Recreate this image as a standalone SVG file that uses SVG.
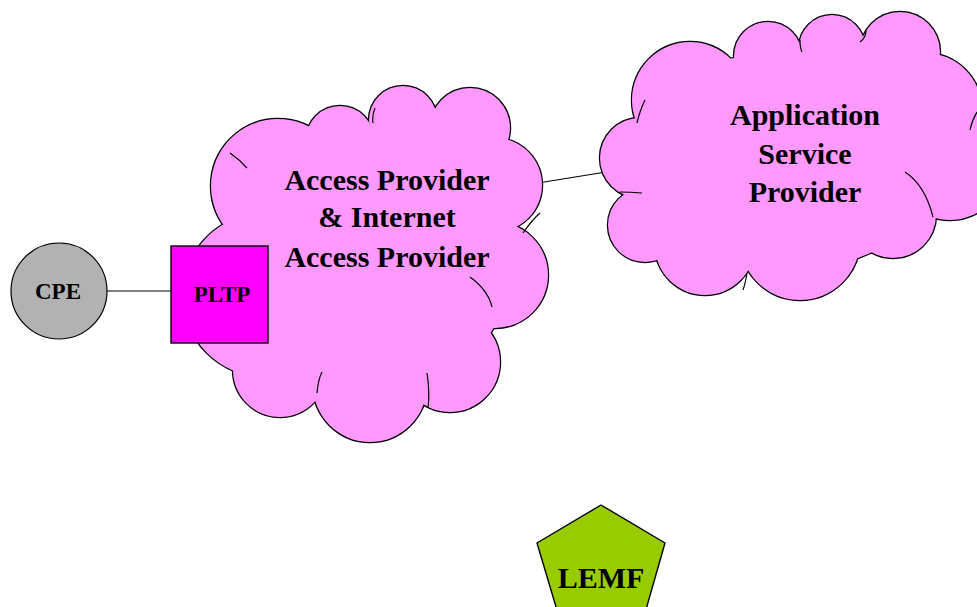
<svg xmlns="http://www.w3.org/2000/svg" width="977" height="607" viewBox="0 0 977 607">
<style>
.lbl{font-family:"Liberation Serif","Times New Roman",serif;font-weight:bold;fill:#000;text-anchor:middle}
.cs{fill:none;stroke:#000;stroke-width:2.4}
.cf{fill:#FF99FF;stroke:none}
.inner{fill:none;stroke:#000;stroke-width:1.2}
.edge{stroke:#000;stroke-width:1.2;fill:none}
</style>
<defs>
<g id="accShapes">
<circle cx="265" cy="295" r="82"/>
<circle cx="280" cy="370" r="47"/>
<circle cx="370" cy="385" r="57"/>
<circle cx="450" cy="362" r="50"/>
<circle cx="495" cy="275" r="53"/>
<circle cx="495" cy="185" r="47"/>
<circle cx="470" cy="128" r="40"/>
<circle cx="403" cy="120" r="34"/>
<circle cx="340" cy="140" r="34"/>
<circle cx="278" cy="186" r="67"/>
<circle cx="430" cy="165" r="40"/>
<ellipse cx="380" cy="265" rx="130" ry="130"/>
</g>
<g id="appShapes">
<circle cx="640" cy="158" r="40"/>
<circle cx="645" cy="225" r="37"/>
<circle cx="705" cy="245" r="50"/>
<circle cx="800" cy="240" r="60"/>
<circle cx="893" cy="215" r="43"/>
<circle cx="950" cy="165" r="55"/>
<circle cx="925" cy="110" r="57"/>
<circle cx="900" cy="52" r="40"/>
<circle cx="832" cy="48" r="33"/>
<circle cx="768" cy="56" r="34"/>
<circle cx="690" cy="100" r="58"/>
<circle cx="860" cy="90" r="42"/>
<ellipse cx="790" cy="160" rx="150" ry="110"/>
</g>
</defs>
<rect width="977" height="607" fill="#fff"/>
<g id="connectors">
<line class="edge" x1="107" y1="291" x2="172" y2="291"/>
<line class="edge" x1="538" y1="183" x2="606" y2="172"/>
</g>
<g id="access-provider">
<use href="#accShapes" class="cs"/>
<use href="#accShapes" class="cf"/>
<path class="inner" d="M470,277 Q488,290 492,307 M523,233 Q532,220 540,213 M427,373 Q430,392 428,408 M317,393 Q318,380 322,372 M230,153 Q240,160 247,168 M373,123 Q372,115 375,108"/>
<text class="lbl" x="387" y="190" font-size="30">Access Provider</text>
<text class="lbl" x="387" y="227" font-size="30">&amp; Internet</text>
<text class="lbl" x="387" y="267" font-size="30">Access Provider</text>
</g>
<g id="app-provider">
<use href="#appShapes" class="cs"/>
<use href="#appShapes" class="cf"/>
<path class="inner" d="M905,172 Q925,185 933,217 M637,123 Q640,110 645,100 M642,193 Q630,192 620,192 M747,273 Q745,285 743,290 M800,40 Q800,48 802,52 M970,130 Q972,120 977,112 M866,30 Q866,38 860,42"/>
<text class="lbl" x="805" y="125" font-size="30">Application</text>
<text class="lbl" x="805" y="164" font-size="30">Service</text>
<text class="lbl" x="805" y="202" font-size="30">Provider</text>
</g>
<g id="cpe">
<circle cx="59" cy="291" r="48" fill="#B2B2B2" stroke="#000" stroke-width="1.2"/>
<text class="lbl" x="58" y="299" font-size="23">CPE</text>
</g>
<g id="pltp">
<rect x="171" y="246" width="97" height="97" fill="#FF00FF" stroke="#000" stroke-width="1.4"/>
<text class="lbl" x="222" y="302" font-size="23">PLTP</text>
</g>
<g id="lemf">
<polygon points="601,505 665,543 641,627 562,627 537,543" fill="#99CC00" stroke="#000" stroke-width="1.4"/>
<text class="lbl" x="601" y="588" font-size="30">LEMF</text>
</g>
</svg>
